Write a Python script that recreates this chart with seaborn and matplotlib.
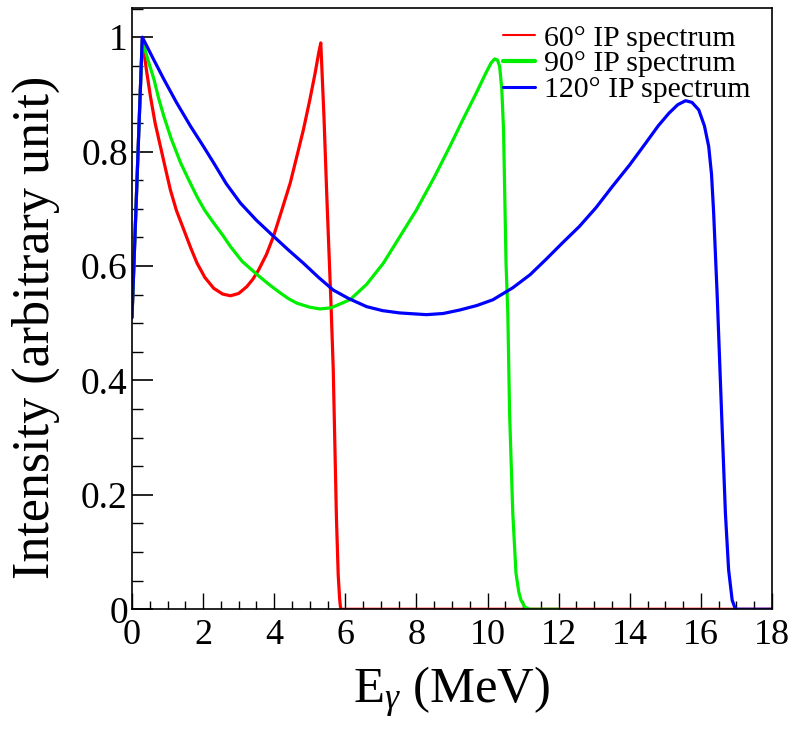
import numpy as np
import pandas as pd
import seaborn as sns
import matplotlib.pyplot as plt
from matplotlib.ticker import MultipleLocator

# ---- données (E en MeV, intensité normalisée) ----
e_60 = [0.0, 0.1, 0.2, 0.29, 0.40, 0.52, 0.65, 0.80, 0.95, 1.08, 1.25, 1.46, 1.65,
        1.83, 2.05, 2.30, 2.55, 2.77, 3.00, 3.23, 3.40, 3.56, 3.78, 3.98, 4.20,
        4.45, 4.65, 4.82, 5.00, 5.15, 5.25, 5.31, 5.40, 5.48, 5.60, 5.66, 5.75,
        5.80, 5.84, 5.87, 18.0]
i_60 = [0.51, 0.68, 0.85, 0.998, 0.945, 0.896, 0.850, 0.809, 0.768, 0.733, 0.697,
        0.663, 0.632, 0.605, 0.580, 0.561, 0.551, 0.548, 0.552, 0.564, 0.577, 0.593,
        0.620, 0.652, 0.695, 0.745, 0.795, 0.838, 0.890, 0.937, 0.972, 0.990, 0.860,
        0.721, 0.529, 0.420, 0.160, 0.060, 0.018, 0.0, 0.0]

e_90 = [0.0, 0.1, 0.2, 0.29, 0.45, 0.62, 0.75, 0.90, 1.10, 1.37, 1.60, 1.83, 2.05,
        2.30, 2.55, 2.77, 3.10, 3.52, 3.85, 4.17, 4.40, 4.64, 5.00, 5.29, 5.60,
        6.13, 6.60, 7.07, 7.50, 8.00, 8.50, 8.94, 9.30, 9.68, 9.95, 10.10, 10.20,
        10.28, 10.34, 10.40, 10.45, 10.52, 10.57, 10.62, 10.71, 10.80, 10.88,
        10.94, 11.05, 11.18, 12.0]
i_90 = [0.51, 0.68, 0.85, 0.995, 0.960, 0.926, 0.893, 0.861, 0.823, 0.780, 0.750,
        0.721, 0.697, 0.675, 0.654, 0.634, 0.608, 0.585, 0.568, 0.553, 0.543, 0.535,
        0.528, 0.525, 0.527, 0.541, 0.568, 0.605, 0.648, 0.698, 0.755, 0.809, 0.855,
        0.902, 0.937, 0.955, 0.962, 0.960, 0.949, 0.910, 0.838, 0.605, 0.518, 0.343,
        0.168, 0.063, 0.030, 0.016, 0.004, 0.0, 0.0]

e_120 = [0.0, 0.1, 0.2, 0.29, 0.60, 0.90, 1.25, 1.65, 2.00, 2.30, 2.65, 3.05, 3.50,
         3.98, 4.40, 4.82, 5.25, 5.66, 6.10, 6.60, 7.05, 7.53, 8.28, 8.75, 9.21,
         9.70, 10.15, 10.71, 11.20, 11.65, 12.10, 12.58, 13.05, 13.51, 14.00, 14.45,
         14.80, 15.10, 15.35, 15.57, 15.75, 15.94, 16.10, 16.22, 16.30, 16.36, 16.46,
         16.60, 16.69, 16.78, 16.88, 16.95, 16.99, 18.0]
i_120 = [0.51, 0.68, 0.85, 1.0, 0.962, 0.926, 0.886, 0.844, 0.810, 0.780, 0.744,
         0.710, 0.680, 0.652, 0.628, 0.605, 0.580, 0.558, 0.543, 0.529, 0.522, 0.518,
         0.515, 0.517, 0.523, 0.531, 0.541, 0.562, 0.585, 0.612, 0.640, 0.669, 0.702,
         0.739, 0.777, 0.815, 0.845, 0.867, 0.882, 0.889, 0.886, 0.873, 0.845, 0.809,
         0.760, 0.692, 0.547, 0.314, 0.168, 0.069, 0.016, 0.004, 0.0, 0.0]

labels = ["60° IP spectrum", "90° IP spectrum", "120° IP spectrum"]
colors = ["#ff0000", "#00ee00", "#0000ff"]
handle_widths = [1.5, 3.0, 2.2]

df = pd.concat([
    pd.DataFrame({"E": e_60, "I": i_60, "spectre": labels[0]}),
    pd.DataFrame({"E": e_90, "I": i_90, "spectre": labels[1]}),
    pd.DataFrame({"E": e_120, "I": i_120, "spectre": labels[2]}),
], ignore_index=True)

sns.set_theme(style="ticks")
plt.rcParams['font.family'] = ['Liberation Serif', 'DejaVu Serif']
plt.rcParams['mathtext.fontset'] = 'custom'
plt.rcParams['mathtext.rm'] = 'Liberation Serif'
plt.rcParams['mathtext.it'] = 'Liberation Serif:italic'
plt.rcParams['text.color'] = 'black'
plt.rcParams['axes.labelcolor'] = 'black'

fig = plt.figure(figsize=(7.98, 7.34), dpi=100)
ax = fig.add_axes([0.1654, 0.1699, 0.802, 0.8192])

sns.lineplot(data=df, x="E", y="I", hue="spectre", palette=colors,
             linewidth=2.3, sort=False, estimator=None, ax=ax)

ax.set_xlim(0, 18)
ax.set_ylim(0, 1.051)
ax.xaxis.set_major_locator(MultipleLocator(2))
ax.xaxis.set_minor_locator(MultipleLocator(0.5))
ax.yaxis.set_minor_locator(MultipleLocator(0.05))
ax.set_yticks([0, 0.2, 0.4, 0.6, 0.8, 1.0])
ax.set_yticklabels(["0", "0.2", "0.4", "0.6", "0.8", "1"])

ax.tick_params(which="both", direction="in", top=False, right=False,
               colors="black", labelcolor="black")
ax.tick_params(axis="y", which="major", length=15, width=1.2, pad=3, labelsize=27)
ax.tick_params(axis="y", which="minor", length=8, width=1.0)
ax.tick_params(axis="x", which="major", length=11.5, width=1.0, pad=7, labelsize=26)
ax.tick_params(axis="x", which="minor", length=6, width=1.0)
for s in ax.spines.values():
    s.set_linewidth(1.2)
    s.set_color("black")

ax.set_xlabel(r"E$_{\gamma}$ (MeV)", fontsize=36.5)
ax.set_ylabel("Intensity (arbitrary unit)", fontsize=37.5)
ax.xaxis.set_label_coords(0.5, -0.093)
ax.yaxis.set_label_coords(-0.112, 0.469)

leg = ax.legend(loc="upper left", bbox_to_anchor=(0.579, 0.972), frameon=False,
                fontsize=21.5, handlelength=1.1, handletextpad=0.3,
                labelspacing=-0.04, borderpad=0, borderaxespad=0, title=None)
for ln, w in zip(leg.get_lines(), handle_widths):
    ln.set_linewidth(w)

fig.savefig("out.png", dpi=100)
